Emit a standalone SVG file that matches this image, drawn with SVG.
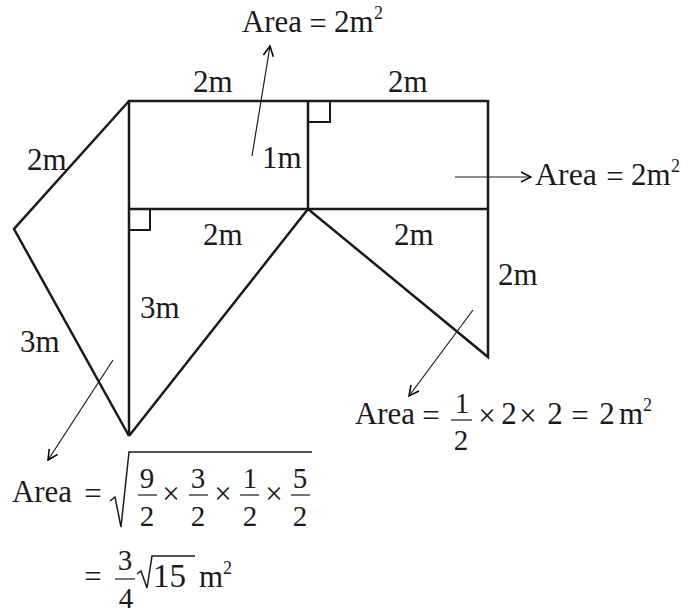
<svg xmlns="http://www.w3.org/2000/svg" width="688" height="615" viewBox="0 0 688 615">
<defs>
<marker id="ah" viewBox="0 0 12 12" refX="11" refY="6" markerWidth="12" markerHeight="12" markerUnits="userSpaceOnUse" orient="auto">
<path d="M1,1 L11,6 L1,11" fill="none" stroke="#000" stroke-width="1.5"/>
</marker>
</defs>
<style>
.s{fill:none;stroke:#1a1a1a;stroke-width:2.5;stroke-linejoin:miter}
.t{fill:none;stroke:#1a1a1a;stroke-width:1.2}
.a{fill:none;stroke:#1a1a1a;stroke-width:1.2;marker-end:url(#ah)}
text{font-family:"Liberation Serif","Times New Roman",serif;font-size:31px;fill:#1a1a1a}
.f{font-size:29px}
.sup{font-size:18px}
.m{text-anchor:middle}
</style>
<rect width="688" height="615" fill="#fff"/>
<g id="shape">
<polyline class="s" points="129,436 129,101 488,101 488,357 308,209 129,436"/>
<line class="s" x1="129" y1="209" x2="488" y2="209"/>
<line class="s" x1="308" y1="101" x2="308" y2="209"/>
<polyline class="s" points="129,101 14,229 129,436"/>
<polyline class="t" style="stroke-width:2" points="308,122 330,122 330,101"/>
<polyline class="t" style="stroke-width:2" points="129,230 150,230 150,209"/>
</g>
<g id="connectors">
<line class="a" x1="252" y1="156" x2="270" y2="46"/>
<line class="a" x1="455" y1="177" x2="531" y2="177"/>
<line class="a" x1="473" y1="310" x2="409" y2="396"/>
<line class="a" x1="113" y1="360" x2="48" y2="460"/>
</g>
<g id="labels">
<text x="193" y="92">2m</text>
<text x="388" y="92">2m</text>
<text x="27" y="170">2m</text>
<text x="262" y="168">1m</text>
<text x="203" y="245">2m</text>
<text x="394" y="245">2m</text>
<text x="498" y="285">2m</text>
<text x="140" y="318">3m</text>
<text x="20" y="352">3m</text>
</g>
<g id="area-top">
<text x="242" y="32" textLength="60" lengthAdjust="spacingAndGlyphs">Area</text>
<text class="m" x="318" y="34">=</text>
<text x="334" y="32">2m</text>
<text class="sup" x="374" y="19">2</text>
</g>
<g id="area-right">
<text x="535" y="185" textLength="62" lengthAdjust="spacingAndGlyphs">Area</text>
<text class="m" x="615" y="187">=</text>
<text x="631" y="185">2m</text>
<text class="sup" x="671" y="172">2</text>
</g>
<g id="area-triangle">
<text x="355" y="424" textLength="60" lengthAdjust="spacingAndGlyphs">Area</text>
<text class="m" x="431" y="426">=</text>
<text class="f m" x="462" y="413">1</text>
<line class="t" x1="451" y1="420" x2="472" y2="420"/>
<text class="f m" x="461" y="450">2</text>
<text class="m" x="487" y="426">×</text>
<text class="m" x="509" y="424">2</text>
<text class="m" x="528" y="426">×</text>
<text class="m" x="555" y="424">2</text>
<text class="m" x="580" y="426">=</text>
<text class="m" x="607" y="424">2</text>
<text x="619" y="424">m</text>
<text class="sup" x="643" y="411">2</text>
</g>
<g id="area-kite">
<text x="12" y="502" textLength="60" lengthAdjust="spacingAndGlyphs">Area</text>
<text class="m" x="93" y="504">=</text>
<polyline class="t" style="stroke-width:1.5" points="110,501 115,497 121,527 129,452 312,452"/>
<text class="f m" x="147" y="488">9</text>
<line class="t" x1="138" y1="495" x2="157" y2="495"/>
<text class="f m" x="147" y="526">2</text>
<text class="m" x="171" y="504">×</text>
<text class="f m" x="198" y="488">3</text>
<line class="t" x1="189" y1="495" x2="208" y2="495"/>
<text class="f m" x="198" y="526">2</text>
<text class="m" x="223" y="504">×</text>
<text class="f m" x="250" y="488">1</text>
<line class="t" x1="240" y1="495" x2="259" y2="495"/>
<text class="f m" x="250" y="526">2</text>
<text class="m" x="274" y="504">×</text>
<text class="f m" x="300" y="488">5</text>
<line class="t" x1="291" y1="495" x2="310" y2="495"/>
<text class="f m" x="300" y="526">2</text>
<text class="m" x="93" y="587">=</text>
<text class="f m" x="125" y="570">3</text>
<line class="t" x1="115" y1="579" x2="135" y2="579"/>
<text class="f m" x="126" y="608">4</text>
<polyline class="t" style="stroke-width:1.5" points="137,574 141,571 147,588 152,556 195,556"/>
<text x="153" y="587" style="font-size:33px">15</text>
<text x="199" y="587">m</text>
<text class="sup" x="223" y="574">2</text>
</g>
</svg>
